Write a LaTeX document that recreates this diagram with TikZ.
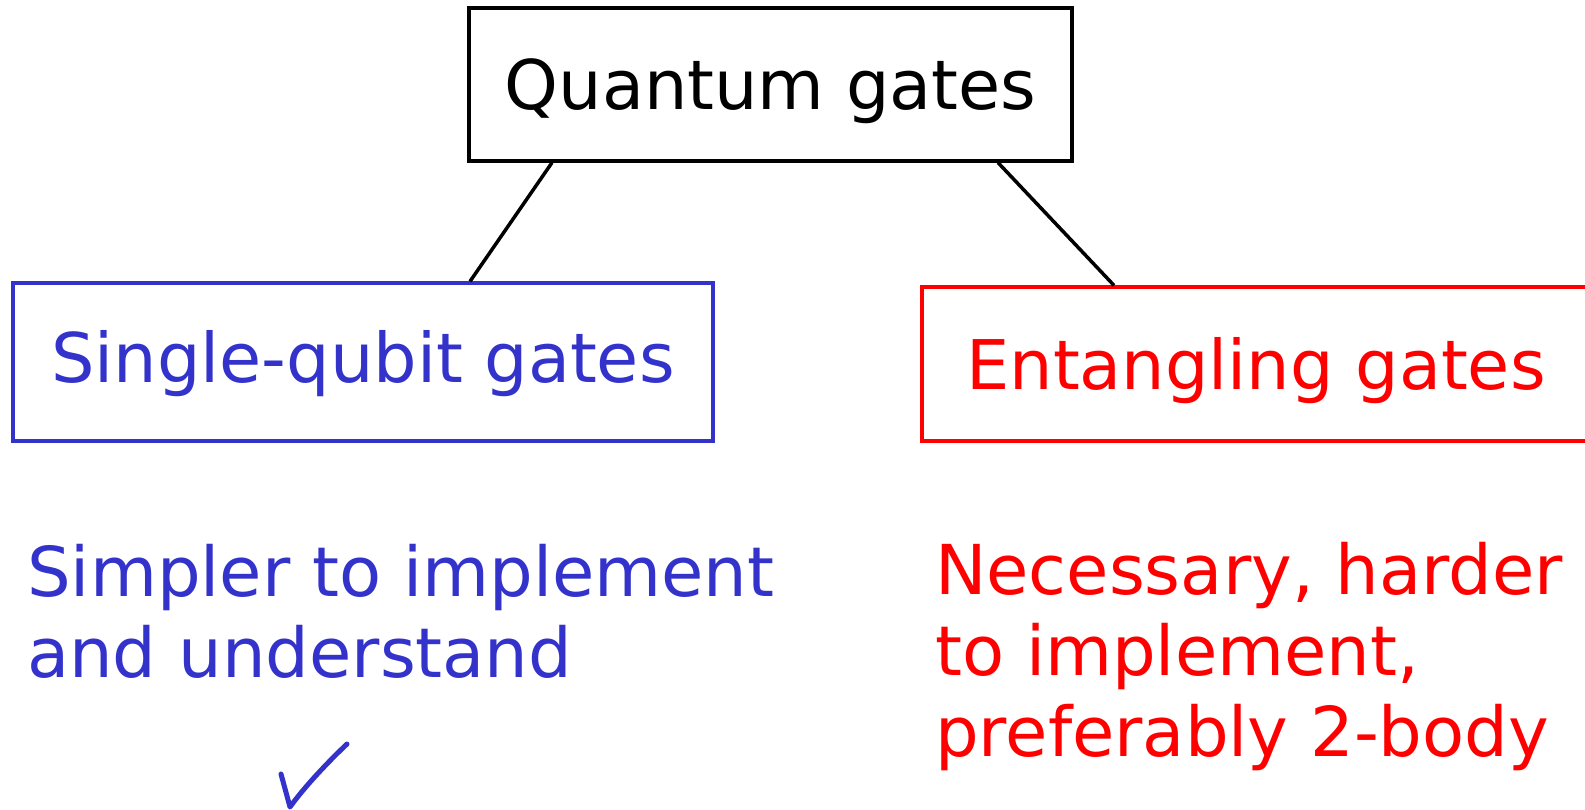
\documentclass[tikz,border=0pt]{standalone}
\usepackage{fontspec}
\setmainfont{DejaVu Sans}
\usepackage{tikz}
\usetikzlibrary{positioning, calc}
\definecolor{qblue}{HTML}{3333CC}
\definecolor{qred}{HTML}{FF0000}
\tikzset{
  box/.style    ={draw, line width=3.2pt, align=center, inner sep=0pt,
                  font=\fontsize{68.5}{81}\selectfont, text height=50pt, text depth=0pt},
  note/.style   ={align=left, inner sep=0pt, anchor=base west,
                  font=\fontsize{68.8}{81}\selectfont},
  lnk/.style    ={line width=3.5pt},
}

\begin{document}
\begin{tikzpicture}[x=1pt, y=-1pt]
  \clip (0,0) rectangle (1585,809);

  \node[box, minimum width=603pt, minimum height=153pt]            (gates)  at (770.5,84.5) {Quantum gates};
  \node[box, qblue, minimum width=700pt, minimum height=158pt]     (single) at (363,362)   {\raisebox{5pt}{Single-qubit gates}};
  \node[box, qred, minimum width=668pt, minimum height=154pt]      (ent)    at (1256,364)  {Entangling gates};

  \node[note, text=qblue] (easy) at (27,677)  {Simpler to implement\\and understand};
  \node[note, text=qred]  (hard) at (935,756) {Necessary, harder\\to implement,\\preferably 2-body};

  \draw[lnk] ([xshift=-218.5pt]gates.south) -- ([xshift=107pt]single.north);
  \draw[lnk] ([xshift=227.5pt]gates.south)  -- ([xshift=-142pt]ent.north);

  \draw[qblue, line width=5pt, line cap=round, line join=round]
    (281,774) -- (290,807) .. controls (305,786) and (330,760) .. (347,744);
\end{tikzpicture}
\end{document}
